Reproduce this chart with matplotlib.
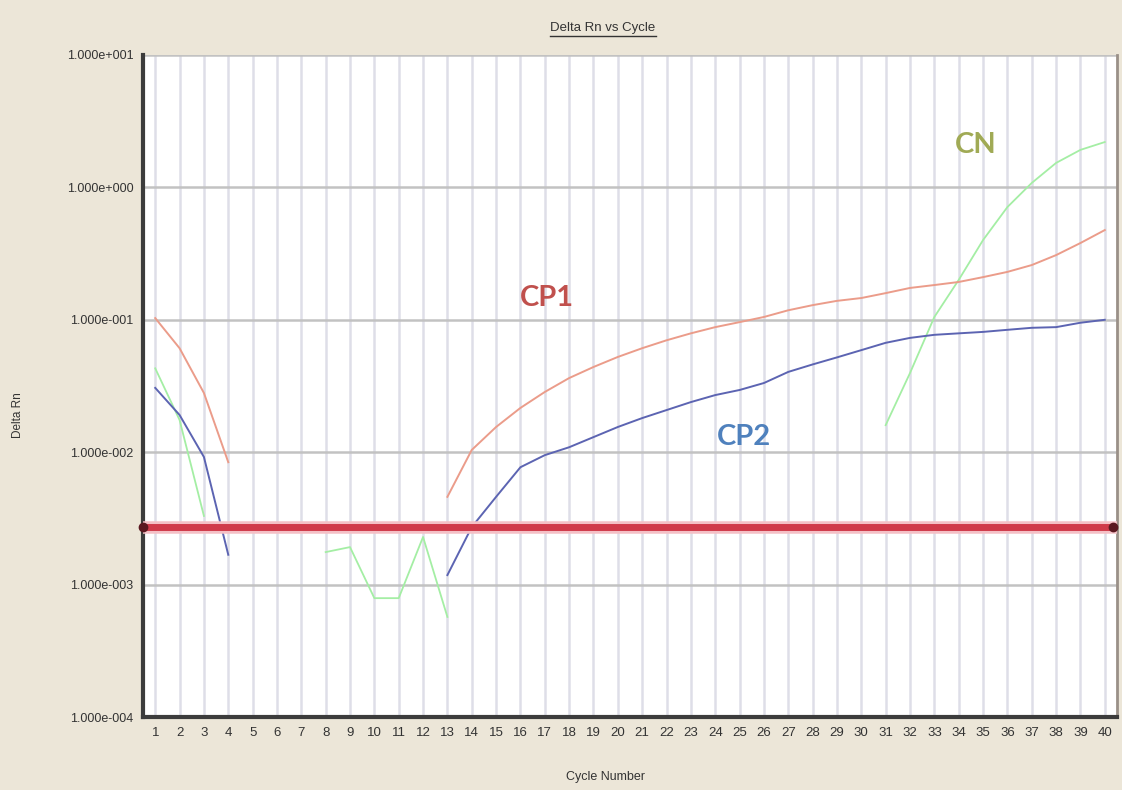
import numpy as np
import matplotlib.pyplot as plt
from matplotlib.lines import Line2D

nan = np.nan

# cycle numbers and Delta Rn readings per sample (gaps = no reading)
cycles = np.arange(1, 41)
cp1 = [0.103, 0.061, 0.028, 0.0084] + [nan] * 8 + [
    0.0046, 0.0104, 0.0155, 0.0216, 0.0285, 0.0363, 0.044, 0.0524, 0.061, 0.070,
    0.079, 0.088, 0.096, 0.105, 0.118, 0.129, 0.139, 0.146, 0.159, 0.174,
    0.183, 0.193, 0.210, 0.230, 0.259, 0.308, 0.38, 0.476]
cp2 = [0.0306, 0.0191, 0.0092, 0.00168] + [nan] * 8 + [
    0.00118, 0.00272, 0.0046, 0.0077, 0.0095, 0.0109, 0.0130, 0.0155, 0.0181, 0.0208,
    0.0239, 0.0270, 0.0295, 0.0333, 0.0404, 0.046, 0.052, 0.059, 0.067, 0.073,
    0.077, 0.079, 0.081, 0.084, 0.087, 0.088, 0.095, 0.100]
cn = [0.043, 0.0175, 0.0033] + [nan] * 4 + [
    0.00176, 0.00192, 0.00079, 0.00079, 0.00229, 0.00057] + [nan] * 17 + [
    0.016, 0.0396, 0.105, 0.2, 0.40, 0.71, 1.08, 1.53, 1.92, 2.2]
threshold = 0.00272

ytick_vals = [1e-4, 1e-3, 1e-2, 1e-1, 1e0, 1e1]
ytick_labels = ['1.000e-004', '1.000e-003', '1.000e-002',
                '1.000e-001', '1.000e+000', '1.000e+001']

plt.rcParams['font.family'] = ['Liberation Sans', 'DejaVu Sans']

bg = '#ece6d8'
fig = plt.figure(figsize=(11.22, 7.9), dpi=100, facecolor=bg)
ax = fig.add_axes([0.1275, 0.0924, 0.868, 0.838])
ax.set_facecolor('white')

ax.set_yscale('log')
ax.set_ylim(1e-4, 1e1)
ax.set_xlim(0.5, 40.5)

# grid: light bluish verticals at every cycle, grey horizontals at decades
for c in cycles:
    ax.axvline(c, color='#dedee8', lw=1.8, zorder=0)
for v in ytick_vals:
    ax.axhline(v, color='#c2c2c2', lw=1.8, zorder=0)

ax.plot(cycles, cp1, color='#eb9c8a', lw=1.4, zorder=3)
ax.plot(cycles, cp2, color='#5c64b2', lw=1.4, zorder=3)
ax.plot(cycles, cn, color='#a4eea4', lw=1.3, zorder=2)

# threshold line with end handles
ax.axhline(threshold, color='#f4c0c6', lw=9, zorder=4)
ax.axhline(threshold, color='#d03a4a', lw=5, zorder=4)
ax.plot([0.5, 40.35], [threshold, threshold], ls='none', marker='o',
        ms=6, color='#5a1820', zorder=5, clip_on=False)

ax.text(17.1, 0.146, 'CP1', color='#c0504d', fontsize=21, fontweight='bold',
        family=['Lato', 'DejaVu Sans'], ha='center', va='center')
ax.text(25.2, 0.013, 'CP2', color='#4f81bd', fontsize=21, fontweight='bold',
        family=['Lato', 'DejaVu Sans'], ha='center', va='center')
ax.text(34.7, 2.1, 'CN', color='#a0aa55', fontsize=21, fontweight='bold',
        family=['Lato', 'DejaVu Sans'], ha='center', va='center')

ax.set_xticks(cycles)
ax.set_xticklabels([str(c) for c in cycles], fontsize=9.5, color='#333333')
ax.set_yticks(ytick_vals)
ax.set_yticklabels(ytick_labels, fontsize=9, color='#333333')
ax.minorticks_off()
ax.tick_params(length=0, pad=7)

for side in ['left', 'bottom']:
    ax.spines[side].set_color('#3c3c3c')
    ax.spines[side].set_linewidth(3)
ax.spines['right'].set_color('#9a9088')
ax.spines['right'].set_linewidth(2)
ax.spines['top'].set_visible(False)

fig.text(18 / 1122, 1 - 415 / 790, 'Delta Rn', rotation=90, fontsize=8.5,
         color='#333333', ha='center', va='center')
fig.text(605 / 1122, 1 - 777 / 790, 'Cycle Number', fontsize=9,
         color='#333333', ha='center', va='center')
title = fig.text(603 / 1122, 1 - 28 / 790, 'Delta Rn vs Cycle', fontsize=9.5,
                 color='#333333', ha='center', va='center')

# underline the title
fig.canvas.draw()
bb = title.get_window_extent().transformed(fig.transFigure.inverted())
fig.add_artist(Line2D([bb.x0, bb.x1], [bb.y0 - 0.002, bb.y0 - 0.002],
                      color='#333333', lw=1, transform=fig.transFigure))

fig.savefig('out.png', dpi=100, facecolor=bg)
